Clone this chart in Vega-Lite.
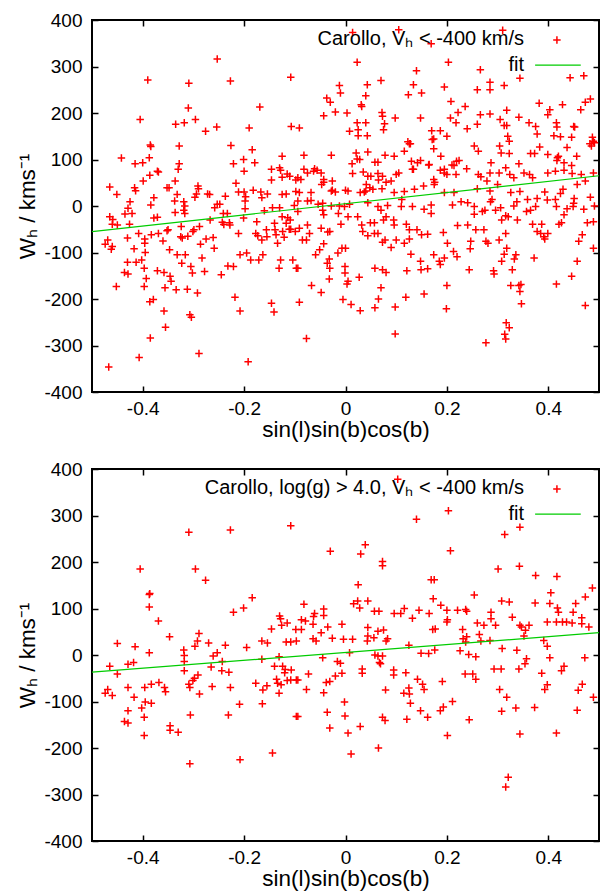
{
"$schema": "https://vega.github.io/schema/vega-lite/v6.json",
"background": "white",
"padding": {"left": 15, "top": 10, "right": 2, "bottom": 2},
"spacing": 17,
"config": {
 "font": "Liberation Sans",
 "view": {"stroke": "black", "strokeWidth": 2},
 "axis": {"domain": false, "grid": false, "tickSize": -6, "tickWidth": 1.5, "tickColor": "black", "labelFont": "Liberation Sans", "labelFontSize": 19, "labelColor": "black", "labelOverlap": false, "titleFont": "Liberation Sans", "titleFontSize": 22.5, "titleFontWeight": "normal", "titleColor": "black"},
 "axisX": {"labelPadding": 13, "titlePadding": 0},
 "axisY": {"labelPadding": 16, "titlePadding": 4},
 "text": {"font": "Liberation Sans", "fontSize": 20, "color": "black"}
},
"datasets": {
 "topFit": [{"x": -0.5, "w": -55}, {"x": 0.5, "w": 65}],
 "botFit": [{"x": -0.5, "w": -37}, {"x": 0.5, "w": 48}],
 "topPts": [
{"x":-0.465,"w":41},{"x":-0.451,"w":25},{"x":-0.442,"w":103},{"x":-0.39,"w":271},{"x":-0.405,"w":186},{"x":-0.415,"w":91},{"x":-0.4,"w":93},{"x":-0.416,"w":39},{"x":-0.414,"w":33},{"x":-0.425,"w":9},{"x":-0.387,"w":104},{"x":-0.385,"w":131},{"x":-0.384,"w":128},{"x":-0.386,"w":66},{"x":-0.399,"w":54},{"x":-0.378,"w":18},{"x":-0.371,"w":75},{"x":-0.369,"w":73},{"x":-0.352,"w":39},{"x":-0.348,"w":39},{"x":-0.336,"w":54},{"x":-0.335,"w":176},{"x":-0.318,"w":179},{"x":-0.328,"w":129},{"x":-0.328,"w":91},{"x":-0.33,"w":79},{"x":-0.337,"w":11},{"x":-0.332,"w":25},{"x":-0.319,"w":9},{"x":-0.317,"w":0},{"x":-0.309,"w":264},{"x":-0.31,"w":211},{"x":-0.296,"w":186},{"x":-0.291,"w":43},{"x":-0.29,"w":37},{"x":-0.294,"w":26},{"x":-0.297,"w":19},{"x":-0.276,"w":161},{"x":-0.272,"w":26},{"x":-0.268,"w":25},{"x":-0.253,"w":316},{"x":-0.254,"w":170},{"x":-0.253,"w":4},{"x":-0.248,"w":4},{"x":-0.258,"w":-4},{"x":-0.237,"w":21},{"x":-0.227,"w":269},{"x":-0.226,"w":130},{"x":-0.221,"w":91},{"x":-0.216,"w":49},{"x":-0.211,"w":30},{"x":-0.2,"w":30},{"x":-0.2,"w":75},{"x":-0.201,"w":100},{"x":-0.198,"w":11},{"x":-0.197,"w":20},{"x":-0.19,"w":168},{"x":-0.184,"w":121},{"x":-0.179,"w":93},{"x":-0.182,"w":34},{"x":-0.169,"w":213},{"x":-0.167,"w":30},{"x":-0.165,"w":18},{"x":-0.154,"w":26},{"x":-0.146,"w":79},{"x":-0.146,"w":56},{"x":-0.13,"w":82},{"x":-0.128,"w":77},{"x":-0.125,"w":107},{"x":-0.125,"w":62},{"x":-0.115,"w":69},{"x":-0.11,"w":64},{"x":-0.117,"w":26},{"x":-0.108,"w":277},{"x":-0.107,"w":171},{"x":-0.101,"w":1},{"x":-0.098,"w":56},{"x":-0.098,"w":31},{"x":-0.125,"w":25},{"x":-0.144,"w":-4},{"x":-0.13,"w":-4},
{"x":-0.465,"w":-23},{"x":-0.459,"w":-29},{"x":-0.46,"w":-39},{"x":-0.45,"w":-41},{"x":-0.474,"w":-82},{"x":-0.469,"w":-73},{"x":-0.462,"w":-93},{"x":-0.46,"w":-87},{"x":-0.452,"w":-173},{"x":-0.467,"w":-346},{"x":-0.435,"w":-17},{"x":-0.429,"w":-5},{"x":-0.421,"w":-16},{"x":-0.43,"w":-69},{"x":-0.417,"w":-92},{"x":-0.426,"w":-39},{"x":-0.43,"w":-121},{"x":-0.436,"w":-143},{"x":-0.429,"w":-146},{"x":-0.413,"w":-121},{"x":-0.408,"w":-59},{"x":-0.402,"w":-116},{"x":-0.397,"w":-134},{"x":-0.397,"w":-173},{"x":-0.395,"w":-100},{"x":-0.393,"w":-156},{"x":-0.396,"w":-71},{"x":-0.396,"w":-80},{"x":-0.384,"w":2},{"x":-0.383,"w":-62},{"x":-0.379,"w":-201},{"x":-0.386,"w":-206},{"x":-0.385,"w":-284},{"x":-0.407,"w":-326},{"x":-0.378,"w":-26},{"x":-0.371,"w":-24},{"x":-0.369,"w":-59},{"x":-0.36,"w":-75},{"x":-0.371,"w":-139},{"x":-0.358,"w":-143},{"x":-0.356,"w":-176},{"x":-0.358,"w":-226},{"x":-0.355,"w":-261},{"x":-0.352,"w":-53},{"x":-0.35,"w":-51},{"x":-0.347,"w":-94},{"x":-0.346,"w":-151},{"x":-0.344,"w":-162},{"x":-0.336,"w":-14},{"x":-0.334,"w":-180},{"x":-0.332,"w":-105},{"x":-0.325,"w":-66},{"x":-0.324,"w":-44},{"x":-0.323,"w":-123},{"x":-0.322,"w":-69},{"x":-0.319,"w":-9},{"x":-0.317,"w":-16},{"x":-0.316,"w":-105},{"x":-0.312,"w":-179},{"x":-0.311,"w":-65},{"x":-0.307,"w":-234},{"x":-0.304,"w":-239},{"x":-0.305,"w":-130},{"x":-0.302,"w":-144},{"x":-0.301,"w":-55},{"x":-0.299,"w":-51},{"x":-0.292,"w":-187},{"x":-0.289,"w":-317},{"x":-0.288,"w":-44},{"x":-0.286,"w":-82},{"x":-0.283,"w":-112},{"x":-0.278,"w":-141},{"x":-0.275,"w":-71},{"x":-0.267,"w":-30},{"x":-0.261,"w":-68},{"x":-0.259,"w":-91},{"x":-0.245,"w":-148},{"x":-0.243,"w":-35},{"x":-0.241,"w":-16},{"x":-0.24,"w":-40},{"x":-0.233,"w":-16},{"x":-0.232,"w":-129},{"x":-0.229,"w":-36},{"x":-0.228,"w":-41},{"x":-0.221,"w":-130},{"x":-0.218,"w":-196},{"x":-0.211,"w":-59},{"x":-0.208,"w":-226},{"x":-0.208,"w":-105},{"x":-0.201,"w":-26},{"x":-0.198,"w":-6},{"x":-0.195,"w":-101},{"x":-0.187,"w":-116},{"x":-0.192,"w":-335},{"x":-0.177,"w":-59},{"x":-0.175,"w":-34},{"x":-0.173,"w":-64},{"x":-0.171,"w":-116},{"x":-0.165,"w":-73},{"x":-0.163,"w":-105},{"x":-0.16,"w":-10},{"x":-0.156,"w":-51},{"x":-0.155,"w":-66},{"x":-0.146,"w":-209},{"x":-0.141,"w":-228},{"x":-0.14,"w":-37},{"x":-0.139,"w":-51},{"x":-0.137,"w":-62},{"x":-0.134,"w":-80},{"x":-0.131,"w":-134},{"x":-0.128,"w":-116},{"x":-0.125,"w":-23},{"x":-0.124,"w":-55},{"x":-0.121,"w":-67},{"x":-0.117,"w":-37},{"x":-0.114,"w":-25},{"x":-0.111,"w":-50},{"x":-0.109,"w":-30},{"x":-0.108,"w":-50},{"x":-0.104,"w":-116},{"x":-0.099,"w":-55},{"x":-0.097,"w":-134},
{"x":0.014,"w":373},{"x":0.105,"w":379},{"x":0.169,"w":349},{"x":0.31,"w":378},{"x":-0.091,"w":168},{"x":0.023,"w":309},{"x":0.203,"w":309},{"x":0.14,"w":291},{"x":0.266,"w":293},{"x":0.344,"w":275},{"x":0.443,"w":276},{"x":0.47,"w":280},{"x":0.07,"w":270},{"x":-0.012,"w":259},{"x":0.043,"w":261},{"x":0.134,"w":261},{"x":0.195,"w":256},{"x":0.26,"w":250},{"x":0.285,"w":266},{"x":0.285,"w":250},{"x":0.313,"w":259},{"x":-0.01,"w":243},{"x":0.04,"w":237},{"x":0.124,"w":239},{"x":0.15,"w":243},{"x":-0.037,"w":232},{"x":-0.03,"w":223},{"x":0.031,"w":218},{"x":0.032,"w":214},{"x":0.208,"w":225},{"x":0.236,"w":214},{"x":0.382,"w":221},{"x":0.483,"w":230},{"x":0.473,"w":223},{"x":0.428,"w":218},{"x":-0.043,"w":194},{"x":-0.02,"w":202},{"x":0.003,"w":200},{"x":0.072,"w":201},{"x":0.073,"w":193},{"x":0.098,"w":189},{"x":0.148,"w":189},{"x":0.207,"w":189},{"x":0.222,"w":201},{"x":0.266,"w":196},{"x":0.285,"w":198},{"x":0.318,"w":206},{"x":0.342,"w":191},{"x":0.305,"w":186},{"x":0.403,"w":207},{"x":0.399,"w":196},{"x":0.464,"w":207},{"x":0.023,"w":179},{"x":0.04,"w":179},{"x":0.077,"w":177},{"x":0.218,"w":179},{"x":0.26,"w":176},{"x":0.313,"w":173},{"x":0.318,"w":173},{"x":0.362,"w":179},{"x":0.375,"w":171},{"x":0.416,"w":179},{"x":0.417,"w":170},{"x":0.45,"w":171},{"x":0.008,"w":161},{"x":0.025,"w":164},{"x":0.025,"w":151},{"x":0.043,"w":151},{"x":0.075,"w":164},{"x":0.123,"w":138},{"x":0.128,"w":134},{"x":0.17,"w":162},{"x":0.187,"w":162},{"x":0.171,"w":143},{"x":0.2,"w":150},{"x":0.24,"w":166},{"x":0.32,"w":150},{"x":0.323,"w":139},{"x":0.378,"w":155},{"x":0.411,"w":151},{"x":0.424,"w":149},{"x":0.452,"w":170},{"x":0.446,"w":148},{"x":0.487,"w":148},{"x":0.489,"w":139},{"x":0.482,"w":134},{"x":-0.082,"w":109},{"x":-0.028,"w":109},{"x":0.021,"w":114},{"x":0.023,"w":101},{"x":0.013,"w":91},{"x":0.028,"w":100},{"x":0.044,"w":116},{"x":0.058,"w":94},{"x":0.064,"w":94},{"x":0.078,"w":109},{"x":0.096,"w":107},{"x":0.116,"w":118},{"x":0.126,"w":134},{"x":0.13,"w":96},{"x":0.134,"w":79},{"x":0.148,"w":98},{"x":0.165,"w":89},{"x":0.174,"w":123},{"x":0.174,"w":144},{"x":0.188,"w":107},{"x":0.195,"w":79},{"x":0.21,"w":88},{"x":0.219,"w":96},{"x":0.224,"w":98},{"x":0.254,"w":129},{"x":0.262,"w":118},{"x":0.287,"w":93},{"x":0.304,"w":129},{"x":0.307,"w":114},{"x":0.323,"w":113},{"x":0.342,"w":91},{"x":0.365,"w":113},{"x":0.373,"w":113},{"x":0.383,"w":127},{"x":0.399,"w":111},{"x":0.418,"w":104},{"x":0.417,"w":98},{"x":0.42,"w":107},{"x":0.431,"w":93},{"x":0.437,"w":126},{"x":0.456,"w":107},{"x":0.446,"w":87},{"x":-0.082,"w":79},{"x":-0.094,"w":61},{"x":-0.088,"w":57},{"x":-0.075,"w":71},{"x":-0.063,"w":75},{"x":-0.061,"w":80},{"x":-0.056,"w":77},{"x":-0.048,"w":71},{"x":-0.043,"w":57},{"x":-0.026,"w":54},{"x":-0.043,"w":51},{"x":-0.026,"w":34},{"x":-0.047,"w":46},{"x":-0.094,"w":11},{"x":-0.091,"w":29},{"x":-0.068,"w":12},{"x":0.005,"w":32},{"x":0.014,"w":70},{"x":0.035,"w":73},{"x":0.044,"w":64},{"x":0.05,"w":64},{"x":0.064,"w":70},{"x":0.073,"w":64},{"x":0.065,"w":56},{"x":0.041,"w":46},{"x":0.029,"w":29},{"x":0.048,"w":39},{"x":0.054,"w":36},{"x":0.08,"w":51},{"x":0.1,"w":68},{"x":0.105,"w":71},{"x":0.09,"w":54},{"x":0.132,"w":79},{"x":0.142,"w":93},{"x":0.154,"w":43},{"x":0.164,"w":88},{"x":0.174,"w":57},{"x":0.176,"w":51},{"x":0.187,"w":77},{"x":0.195,"w":71},{"x":0.2,"w":68},{"x":0.214,"w":87},{"x":0.218,"w":68},{"x":0.239,"w":80},{"x":0.262,"w":68},{"x":0.267,"w":63},{"x":0.279,"w":54},{"x":0.285,"w":71},{"x":0.303,"w":71},{"x":0.316,"w":82},{"x":0.324,"w":68},{"x":0.332,"w":61},{"x":0.352,"w":71},{"x":0.363,"w":68},{"x":0.369,"w":61},{"x":0.399,"w":71},{"x":0.414,"w":75},{"x":0.431,"w":77},{"x":0.447,"w":70},{"x":0.465,"w":68},{"x":0.473,"w":54},{"x":0.489,"w":71},{"x":-0.075,"w":11},{"x":-0.045,"w":6},{"x":-0.068,"w":29},{"x":-0.02,"w":30},{"x":0,"w":34},{"x":-0.028,"w":32},{"x":-0.012,"w":0},{"x":0.037,"w":30},{"x":0.04,"w":32},{"x":0.072,"w":37},{"x":0.096,"w":29},{"x":0.111,"w":14},{"x":0.116,"w":31},{"x":0.136,"w":36},{"x":0.175,"w":46},{"x":0.195,"w":29},{"x":0.214,"w":29},{"x":0.26,"w":37},{"x":0.285,"w":32},{"x":0.289,"w":14},{"x":0.3,"w":46},{"x":0.326,"w":29},{"x":0.344,"w":31},{"x":0.359,"w":14},{"x":0.378,"w":16},{"x":0.393,"w":30},{"x":0.414,"w":14},{"x":0.424,"w":27},{"x":0.429,"w":36},{"x":0.437,"w":-6},{"x":0.457,"w":46},{"x":0.47,"w":-7},{"x":0.483,"w":19},{"x":0.491,"w":0},{"x":0.491,"w":136},{"x":0.485,"w":129},{"x":-0.054,"w":4},{"x":-0.028,"w":0},{"x":0.044,"w":7},{"x":0.083,"w":1},{"x":0.155,"w":-7},{"x":0.169,"w":-16},{"x":0.241,"w":7},{"x":0.254,"w":-18},{"x":0.306,"w":-4},{"x":0.316,"w":-21},{"x":0.332,"w":0},{"x":0.451,"w":16},
{"x":-0.094,"w":-12},{"x":-0.091,"w":-48},{"x":-0.075,"w":-41},{"x":-0.071,"w":-59},{"x":-0.085,"w":-73},{"x":-0.077,"w":-73},{"x":-0.094,"w":-134},{"x":-0.091,"w":-207},{"x":-0.077,"w":-285},{"x":-0.045,"w":-9},{"x":-0.043,"w":-19},{"x":-0.048,"w":-48},{"x":-0.035,"w":-56},{"x":-0.031,"w":-55},{"x":-0.043,"w":-81},{"x":-0.051,"w":-94},{"x":-0.059,"w":-105},{"x":-0.036,"w":-123},{"x":-0.031,"w":-134},{"x":-0.032,"w":-114},{"x":-0.032,"w":-157},{"x":-0.067,"w":-171},{"x":-0.048,"w":-186},{"x":-0.014,"w":-16},{"x":-0.009,"w":-39},{"x":-0.015,"w":-101},{"x":-0.007,"w":-91},{"x":0.005,"w":-23},{"x":0,"w":-91},{"x":-0.001,"w":-130},{"x":-0.001,"w":-144},{"x":0.005,"w":-162},{"x":0.003,"w":-168},{"x":-0.005,"w":-201},{"x":0.011,"w":-212},{"x":-0.002,"w":-1},{"x":0.008,"w":4},{"x":0.024,"w":-23},{"x":0.032,"w":-41},{"x":0.034,"w":-55},{"x":0.044,"w":-64},{"x":0.027,"w":-153},{"x":0.029,"w":-225},{"x":0.049,"w":-36},{"x":0.057,"w":-36},{"x":0.057,"w":-59},{"x":0.064,"w":-59},{"x":0.058,"w":-134},{"x":0.073,"w":-137},{"x":0.08,"w":-143},{"x":0.07,"w":-176},{"x":0.065,"w":-200},{"x":0.058,"w":-219},{"x":0.064,"w":-1},{"x":0.07,"w":-9},{"x":0.08,"w":-23},{"x":0.075,"w":-30},{"x":0.078,"w":-73},{"x":0.073,"w":-78},{"x":0.09,"w":-89},{"x":0.095,"w":-30},{"x":0.096,"w":-41},{"x":0.1,"w":-73},{"x":0.098,"w":-217},{"x":0.098,"w":-275},{"x":0.11,"w":-1},{"x":0.12,"w":-39},{"x":0.116,"w":-80},{"x":0.126,"w":-51},{"x":0.126,"w":-71},{"x":0.129,"w":-104},{"x":0.121,"w":-139},{"x":0.119,"w":-196},{"x":0.132,"w":-1},{"x":0.141,"w":-51},{"x":0.15,"w":-62},{"x":0.162,"w":-61},{"x":0.148,"w":-119},{"x":0.149,"w":-137},{"x":0.162,"w":-135},{"x":0.155,"w":-189},{"x":0.169,"w":2},{"x":0.174,"w":-105},{"x":0.185,"w":-119},{"x":0.187,"w":-126},{"x":0.193,"w":-57},{"x":0.195,"w":-112},{"x":0.201,"w":-80},{"x":0.2,"w":-171},{"x":0.199,"w":-221},{"x":0.211,"w":2},{"x":0.213,"w":-98},{"x":0.22,"w":-109},{"x":0.221,"w":-42},{"x":0.228,"w":9},{"x":0.241,"w":-41},{"x":0.246,"w":-92},{"x":0.244,"w":-137},{"x":0.247,"w":-76},{"x":0.257,"w":-51},{"x":0.254,"w":-1},{"x":0.27,"w":-12},{"x":0.273,"w":-51},{"x":0.277,"w":-76},{"x":0.275,"w":-9},{"x":0.281,"w":-80},{"x":0.286,"w":9},{"x":0.292,"w":-139},{"x":0.293,"w":-146},{"x":0.296,"w":-9},{"x":0.303,"w":-73},{"x":0.308,"w":-119},{"x":0.313,"w":-104},{"x":0.318,"w":-91},{"x":0.321,"w":-23},{"x":0.308,"w":-30},{"x":0.316,"w":-59},{"x":0.329,"w":-137},{"x":0.326,"w":-171},{"x":0.333,"w":-114},{"x":0.336,"w":-105},{"x":0.338,"w":9},{"x":0.339,"w":-30},{"x":0.342,"w":-171},{"x":0.346,"w":-169},{"x":0.344,"w":-184},{"x":0.347,"w":-210},{"x":0.317,"w":-251},{"x":0.323,"w":-262},{"x":0.314,"w":-276},{"x":0.316,"w":-286},{"x":0.277,"w":-294},{"x":0.357,"w":-12},{"x":0.365,"w":-9},{"x":0.369,"w":-39},{"x":0.372,"w":-112},{"x":0.375,"w":-1},{"x":0.387,"w":-39},{"x":0.378,"w":-55},{"x":0.385,"w":-59},{"x":0.391,"w":-66},{"x":0.393,"w":-71},{"x":0.399,"w":-59},{"x":0.398,"w":13},{"x":0.416,"w":-1},{"x":0.416,"w":-168},{"x":0.421,"w":-39},{"x":0.426,"w":-36},{"x":0.431,"w":-19},{"x":0.449,"w":-1},{"x":0.45,"w":6},{"x":0.457,"w":-119},{"x":0.446,"w":-151},{"x":0.46,"w":-76},{"x":0.467,"w":-62},{"x":0.473,"w":-214},{"x":0.477,"w":-36},{"x":0.489,"w":-34},{"x":0.489,"w":-91}
 ],
 "botPts": [
{"x":-0.45,"w":25},{"x":-0.415,"w":18},{"x":-0.405,"w":185},{"x":-0.387,"w":130},{"x":-0.386,"w":132},{"x":-0.387,"w":103},{"x":-0.369,"w":73},{"x":-0.387,"w":5},{"x":-0.347,"w":39},{"x":-0.309,"w":264},{"x":-0.296,"w":185},{"x":-0.276,"w":161},{"x":-0.319,"w":11},{"x":-0.318,"w":-1},{"x":-0.297,"w":19},{"x":-0.292,"w":30},{"x":-0.289,"w":46},{"x":-0.27,"w":26},{"x":-0.261,"w":-2},{"x":-0.253,"w":5},{"x":-0.237,"w":21},{"x":-0.227,"w":269},{"x":-0.221,"w":92},{"x":-0.201,"w":101},{"x":-0.195,"w":16},{"x":-0.184,"w":123},{"x":-0.165,"w":30},{"x":-0.154,"w":26},{"x":-0.146,"w":56},{"x":-0.13,"w":84},{"x":-0.128,"w":78},{"x":-0.126,"w":64},{"x":-0.115,"w":69},{"x":-0.117,"w":28},{"x":-0.108,"w":28},{"x":-0.108,"w":278},{"x":-0.098,"w":55},{"x":-0.097,"w":30},{"x":-0.131,"w":-4},
{"x":-0.474,"w":-82},{"x":-0.469,"w":-74},{"x":-0.465,"w":-24},{"x":-0.46,"w":-87},{"x":-0.45,"w":-41},{"x":-0.429,"w":-20},{"x":-0.429,"w":-70},{"x":-0.429,"w":-120},{"x":-0.436,"w":-143},{"x":-0.429,"w":-146},{"x":-0.418,"w":-16},{"x":-0.417,"w":-91},{"x":-0.402,"w":-114},{"x":-0.397,"w":-134},{"x":-0.397,"w":-173},{"x":-0.396,"w":-70},{"x":-0.395,"w":-101},{"x":-0.383,"w":-63},{"x":-0.383,"w":-104},{"x":-0.368,"w":-59},{"x":-0.357,"w":-70},{"x":-0.355,"w":-79},{"x":-0.346,"w":-152},{"x":-0.346,"w":-162},{"x":-0.33,"w":-166},{"x":-0.318,"w":-14},{"x":-0.318,"w":-34},{"x":-0.309,"w":-63},{"x":-0.307,"w":-70},{"x":-0.306,"w":-129},{"x":-0.307,"w":-234},{"x":-0.301,"w":-55},{"x":-0.298,"w":-50},{"x":-0.291,"w":-43},{"x":-0.288,"w":-84},{"x":-0.265,"w":-26},{"x":-0.263,"w":-68},{"x":-0.244,"w":-34},{"x":-0.243,"w":-14},{"x":-0.231,"w":-129},{"x":-0.23,"w":-37},{"x":-0.227,"w":-70},{"x":-0.209,"w":-106},{"x":-0.208,"w":-225},{"x":-0.177,"w":-61},{"x":-0.165,"w":-9},{"x":-0.164,"w":-105},{"x":-0.163,"w":-75},{"x":-0.155,"w":-66},{"x":-0.144,"w":-211},{"x":-0.14,"w":-24},{"x":-0.136,"w":-52},{"x":-0.134,"w":-61},{"x":-0.131,"w":-82},{"x":-0.127,"w":-64},{"x":-0.124,"w":-24},{"x":-0.12,"w":-38},{"x":-0.119,"w":-31},{"x":-0.115,"w":-55},{"x":-0.108,"w":-54},{"x":-0.107,"w":-32},{"x":-0.097,"w":-54},{"x":-0.097,"w":-132},
{"x":0.103,"w":378},{"x":0.203,"w":310},{"x":0.14,"w":292},{"x":0.314,"w":259},{"x":0.344,"w":275},{"x":-0.03,"w":223},{"x":0.039,"w":237},{"x":0.03,"w":217},{"x":0.207,"w":224},{"x":0.073,"w":201},{"x":0.073,"w":192},{"x":0.301,"w":185},{"x":0.343,"w":191},{"x":0.375,"w":171},{"x":0.417,"w":169},{"x":0.169,"w":162},{"x":0.175,"w":162},{"x":0.025,"w":151},{"x":0.487,"w":144},{"x":0.405,"w":134},{"x":0.254,"w":129},{"x":0.173,"w":121},{"x":0.188,"w":107},{"x":0.016,"w":110},{"x":0.024,"w":116},{"x":0.044,"w":116},{"x":0.028,"w":101},{"x":0.308,"w":116},{"x":0.323,"w":114},{"x":0.374,"w":112},{"x":0.403,"w":111},{"x":0.473,"w":125},{"x":0.454,"w":111},{"x":0.418,"w":101},{"x":0.42,"w":92},{"x":-0.082,"w":109},{"x":-0.061,"w":89},{"x":-0.063,"w":83},{"x":-0.043,"w":99},{"x":-0.043,"w":85},{"x":0.057,"w":94},{"x":0.066,"w":94},{"x":0.096,"w":89},{"x":0.109,"w":89},{"x":0.116,"w":100},{"x":0.132,"w":79},{"x":0.145,"w":96},{"x":0.165,"w":89},{"x":0.2,"w":96},{"x":0.201,"w":76},{"x":0.2,"w":71},{"x":0.221,"w":96},{"x":0.237,"w":98},{"x":0.239,"w":94},{"x":0.287,"w":92},{"x":0.287,"w":78},{"x":0.296,"w":64},{"x":0.329,"w":81},{"x":0.344,"w":64},{"x":0.347,"w":60},{"x":0.362,"w":64},{"x":0.355,"w":53},{"x":0.398,"w":71},{"x":0.436,"w":71},{"x":0.449,"w":92},{"x":0.428,"w":71},{"x":0.447,"w":69},{"x":0.466,"w":80},{"x":0.466,"w":67},{"x":0.48,"w":60},{"x":-0.087,"w":76},{"x":-0.079,"w":73},{"x":-0.064,"w":66},{"x":-0.087,"w":55},{"x":-0.048,"w":48},{"x":-0.035,"w":60},{"x":-0.007,"w":66},{"x":-0.026,"w":36},{"x":-0.064,"w":35},{"x":-0.058,"w":30},{"x":-0.004,"w":34},{"x":0.014,"w":34},{"x":0.044,"w":59},{"x":0.044,"w":41},{"x":0.043,"w":30},{"x":0.056,"w":37},{"x":0.064,"w":51},{"x":0.075,"w":54},{"x":0.08,"w":30},{"x":0.083,"w":35},{"x":0.125,"w":21},{"x":0.172,"w":55},{"x":0.177,"w":56},{"x":0.231,"w":55},{"x":0.232,"w":35},{"x":0.239,"w":39},{"x":0.237,"w":28},{"x":0.26,"w":69},{"x":0.264,"w":44},{"x":0.267,"w":30},{"x":0.273,"w":64},{"x":0.285,"w":31},{"x":0.309,"w":14},{"x":0.338,"w":10},{"x":0.352,"w":41},{"x":0.391,"w":31},{"x":0.398,"w":19},{"x":0.416,"w":71},{"x":0.149,"w":4},{"x":0.164,"w":3},{"x":0.176,"w":11},{"x":0.226,"w":9},{"x":0.243,"w":1},{"x":0.257,"w":-4},{"x":0.008,"w":5},{"x":-0.045,"w":-6},{"x":0.357,"w":-8},{"x":0.403,"w":-6},{"x":0.472,"w":-6},
{"x":0.058,"w":0},{"x":0.064,"w":-2},{"x":0.073,"w":-2},{"x":0.067,"w":-16},{"x":0.069,"w":-19},{"x":-0.016,"w":-14},{"x":-0.01,"w":-18},{"x":-0.073,"w":-41},{"x":-0.038,"w":-59},{"x":-0.031,"w":-57},{"x":-0.02,"w":-45},{"x":-0.007,"w":-39},{"x":0.033,"w":-30},{"x":0.033,"w":-39},{"x":0.095,"w":-32},{"x":0.095,"w":-43},{"x":0.119,"w":-38},{"x":0.142,"w":-52},{"x":0.152,"w":-63},{"x":0.155,"w":-74},{"x":0.125,"w":-71},{"x":0.115,"w":-82},{"x":0.126,"w":-84},{"x":0.128,"w":-104},{"x":0.079,"w":-75},{"x":-0.077,"w":-74},{"x":-0.043,"w":-81},{"x":-0.094,"w":-54},{"x":-0.094,"w":-132},{"x":-0.036,"w":-123},{"x":-0.031,"w":-157},{"x":-0.002,"w":-101},{"x":-0.001,"w":-131},{"x":0.005,"w":-168},{"x":0.011,"w":-213},{"x":0.029,"w":-154},{"x":0.065,"w":-200},{"x":0.073,"w":-134},{"x":0.078,"w":-141},{"x":0.121,"w":-138},{"x":0.148,"w":-120},{"x":0.162,"w":-134},{"x":0.187,"w":-120},{"x":0.193,"w":-112},{"x":0.191,"w":-57},{"x":0.211,"w":-100},{"x":0.201,"w":-173},{"x":0.244,"w":-139},{"x":0.236,"w":-41},{"x":0.251,"w":-41},{"x":0.257,"w":-52},{"x":0.293,"w":-30},{"x":0.307,"w":-30},{"x":0.304,"w":-74},{"x":0.318,"w":-91},{"x":0.308,"w":-121},{"x":0.336,"w":-114},{"x":0.344,"w":-170},{"x":0.342,"w":-30},{"x":0.354,"w":-19},{"x":0.387,"w":-39},{"x":0.393,"w":-74},{"x":0.398,"w":-64},{"x":0.373,"w":-113},{"x":0.416,"w":-168},{"x":0.426,"w":-34},{"x":0.431,"w":-24},{"x":0.459,"w":-76},{"x":0.467,"w":-63},{"x":0.457,"w":-119},{"x":0.489,"w":-91},{"x":0.321,"w":-263},{"x":0.316,"w":-284}
 ]
},
"vconcat": [
 {
  "width": 507, "height": 372,
  "resolve": {"axis": {"x": "independent", "y": "independent"}},
  "layer": [
   {"data": {"name": "topPts"},
    "mark": {"type": "point", "shape": "M-1,0L1,0M0,-1L0,1", "size": 56, "filled": false, "color": "#ff0000", "strokeWidth": 1.5, "opacity": 1},
    "encoding": {
     "x": {"field": "x", "type": "quantitative", "scale": {"domain": [-0.5, 0.5], "nice": false, "zero": false}, "axis": {"orient": "bottom", "values": [-0.4, -0.2, 0, 0.2, 0.4], "labelExpr": "toString(datum.value)", "title": "sin(l)sin(b)cos(b)"}},
     "y": {"field": "w", "type": "quantitative", "scale": {"domain": [-400, 400], "nice": false, "zero": false}, "axis": {"orient": "left", "values": [-400, -300, -200, -100, 0, 100, 200, 300, 400], "labelExpr": "toString(datum.value)", "title": "Wₕ / kms⁻¹"}}
    }},
   {"data": {"name": "topFit"},
    "mark": {"type": "line", "color": "#00cc00", "strokeWidth": 1.2},
    "encoding": {
     "x": {"field": "x", "type": "quantitative", "axis": {"orient": "top", "values": [-0.4, -0.2, 0, 0.2, 0.4], "labels": false, "title": null}},
     "y": {"field": "w", "type": "quantitative", "axis": {"orient": "right", "values": [-400, -300, -200, -100, 0, 100, 200, 300, 400], "labels": false, "title": null}}
    }},
   {"data": {"values": [{}]},
    "mark": {"type": "text", "align": "right", "baseline": "middle"},
    "encoding": {"x": {"datum": 0.352, "type": "quantitative", "axis": null}, "y": {"datum": 360, "type": "quantitative", "axis": null}, "text": {"value": "Carollo, Vₕ < -400 km/s"}}},
   {"data": {"values": [{}]},
    "mark": {"type": "point", "shape": "M-1,0L1,0M0,-1L0,1", "size": 56, "filled": false, "color": "#ff0000", "strokeWidth": 1.5, "opacity": 1},
    "encoding": {"x": {"datum": 0.417, "type": "quantitative", "axis": null}, "y": {"datum": 357, "type": "quantitative", "axis": null}}},
   {"data": {"values": [{}]},
    "mark": {"type": "text", "align": "right", "baseline": "middle"},
    "encoding": {"x": {"datum": 0.352, "type": "quantitative", "axis": null}, "y": {"datum": 303, "type": "quantitative", "axis": null}, "text": {"value": "fit"}}},
   {"data": {"values": [{}]},
    "mark": {"type": "rule", "color": "#00cc00", "strokeWidth": 1.2},
    "encoding": {"x": {"datum": 0.374, "type": "quantitative", "axis": null}, "x2": {"datum": 0.464}, "y": {"datum": 303, "type": "quantitative", "axis": null}}}
  ]
 },
 {
  "width": 507, "height": 372,
  "resolve": {"axis": {"x": "independent", "y": "independent"}},
  "layer": [
   {"data": {"name": "botPts"},
    "mark": {"type": "point", "shape": "M-1,0L1,0M0,-1L0,1", "size": 56, "filled": false, "color": "#ff0000", "strokeWidth": 1.5, "opacity": 1},
    "encoding": {
     "x": {"field": "x", "type": "quantitative", "scale": {"domain": [-0.5, 0.5], "nice": false, "zero": false}, "axis": {"orient": "bottom", "values": [-0.4, -0.2, 0, 0.2, 0.4], "labelExpr": "toString(datum.value)", "title": "sin(l)sin(b)cos(b)"}},
     "y": {"field": "w", "type": "quantitative", "scale": {"domain": [-400, 400], "nice": false, "zero": false}, "axis": {"orient": "left", "values": [-400, -300, -200, -100, 0, 100, 200, 300, 400], "labelExpr": "toString(datum.value)", "title": "Wₕ / kms⁻¹"}}
    }},
   {"data": {"name": "botFit"},
    "mark": {"type": "line", "color": "#00cc00", "strokeWidth": 1.2},
    "encoding": {
     "x": {"field": "x", "type": "quantitative", "axis": {"orient": "top", "values": [-0.4, -0.2, 0, 0.2, 0.4], "labels": false, "title": null}},
     "y": {"field": "w", "type": "quantitative", "axis": {"orient": "right", "values": [-400, -300, -200, -100, 0, 100, 200, 300, 400], "labels": false, "title": null}}
    }},
   {"data": {"values": [{}]},
    "mark": {"type": "text", "align": "right", "baseline": "middle"},
    "encoding": {"x": {"datum": 0.352, "type": "quantitative", "axis": null}, "y": {"datum": 360, "type": "quantitative", "axis": null}, "text": {"value": "Carollo, log(g) > 4.0, Vₕ < -400 km/s"}}},
   {"data": {"values": [{}]},
    "mark": {"type": "point", "shape": "M-1,0L1,0M0,-1L0,1", "size": 56, "filled": false, "color": "#ff0000", "strokeWidth": 1.5, "opacity": 1},
    "encoding": {"x": {"datum": 0.417, "type": "quantitative", "axis": null}, "y": {"datum": 357, "type": "quantitative", "axis": null}}},
   {"data": {"values": [{}]},
    "mark": {"type": "text", "align": "right", "baseline": "middle"},
    "encoding": {"x": {"datum": 0.352, "type": "quantitative", "axis": null}, "y": {"datum": 303, "type": "quantitative", "axis": null}, "text": {"value": "fit"}}},
   {"data": {"values": [{}]},
    "mark": {"type": "rule", "color": "#00cc00", "strokeWidth": 1.2},
    "encoding": {"x": {"datum": 0.374, "type": "quantitative", "axis": null}, "x2": {"datum": 0.464}, "y": {"datum": 303, "type": "quantitative", "axis": null}}}
  ]
 }
]
}
